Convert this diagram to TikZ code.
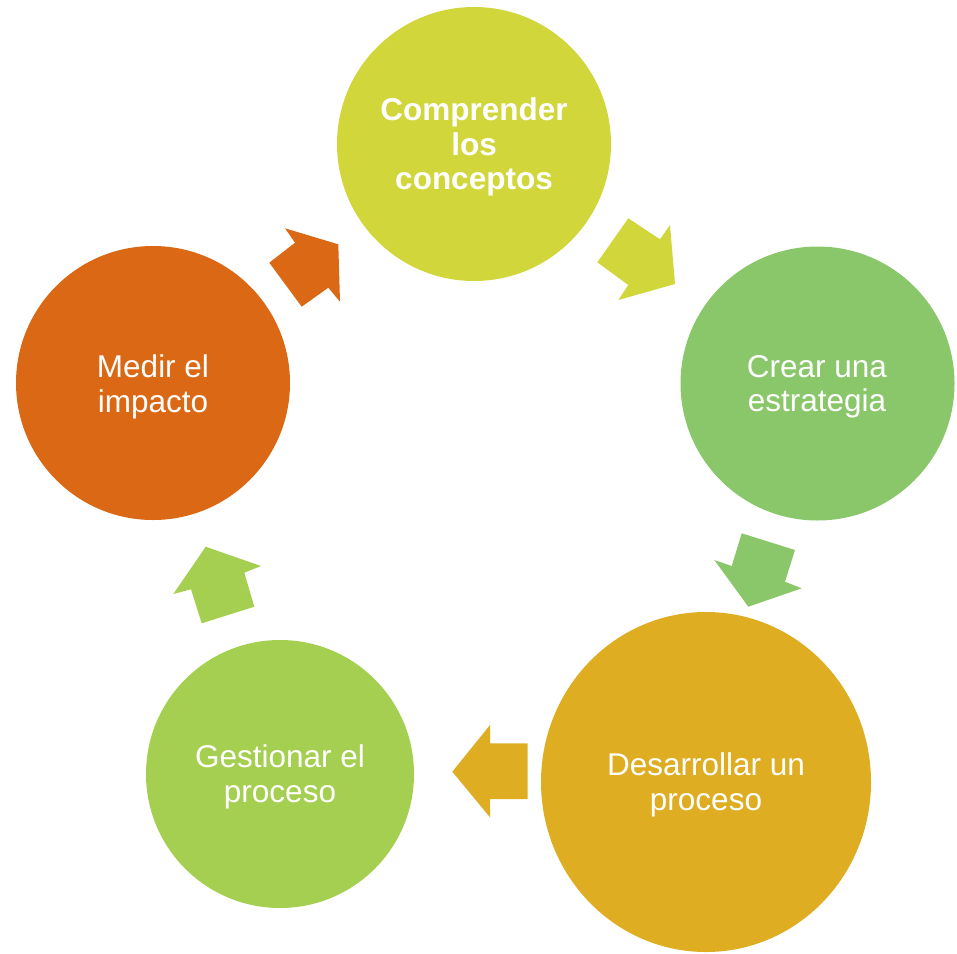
\documentclass[tikz,border=0pt]{standalone}
\usepackage{fontspec}
\setmainfont{Liberation Sans}
\definecolor{cTop}{HTML}{D1D63B}
\definecolor{cRight}{HTML}{8AC76A}
\definecolor{cBot}{HTML}{DEAD22}
\definecolor{cLeftB}{HTML}{A5CF51}
\definecolor{cLeft}{HTML}{DA6815}
\definecolor{txt}{HTML}{FFFFFF}
\begin{document}
\begin{tikzpicture}[x=1pt,y=-1pt,
  lbl/.style={text=txt,align=center,inner sep=0pt,font=\fontsize{31.5}{34.5}\selectfont},
  blk/.style={draw=none}]
\useasboundingbox (0,0) rectangle (957,953);
% circles
\fill[cTop] (474,144) circle (137);
\fill[cRight] (817.5,383.5) circle (137);
\fill[cBot] (706,782) ellipse [x radius=165, y radius=170];
\fill[cLeftB] (280,774) circle (134);
\fill[cLeft] (153,383) circle (137);
% labels
\node[lbl,font=\fontsize{31.5}{34.5}\selectfont\bfseries] (comp) at (474,147) {Comprender\\los\\conceptos};
\node[lbl] (crear) at (817,387) {Crear una\\estrategia};
\node[lbl] (desa) at (706,785) {Desarrollar un\\proceso};
\node[lbl] (gest) at (280,777) {Gestionar el\\proceso};
\node[lbl] (medir) at (153,387) {Medir el\\impacto};
% block arrows
\fill[cLeft] (269.3,262.7) -- (295,242.7) -- (285,228.3) -- (338.3,244.3) -- (340,301.7) -- (328.3,287.7) -- (301.7,306.7) -- cycle;
\fill[cTop] (628.3,218.3) -- (660,239.3) -- (670,225) -- (675,284) -- (618.3,300) -- (628.3,285) -- (597.3,262.3) -- cycle;
\fill[cRight] (741.7,533.3) -- (795,550) -- (785,581.7) -- (801.7,588.3) -- (748.3,606.7) -- (714.3,560) -- (731.7,566) -- cycle;
\fill[cBot] (527.7,743.3) -- (490,743.3) -- (490,725) -- (452.3,771.7) -- (490,817.3) -- (490,799) -- (527.7,799) -- cycle;
\fill[cLeftB] (201.7,623.3) -- (254.3,606.7) -- (244.3,572.7) -- (261,566) -- (205.7,546.7) -- (173.3,594) -- (191,589.3) -- cycle;
\end{tikzpicture}
\end{document}
